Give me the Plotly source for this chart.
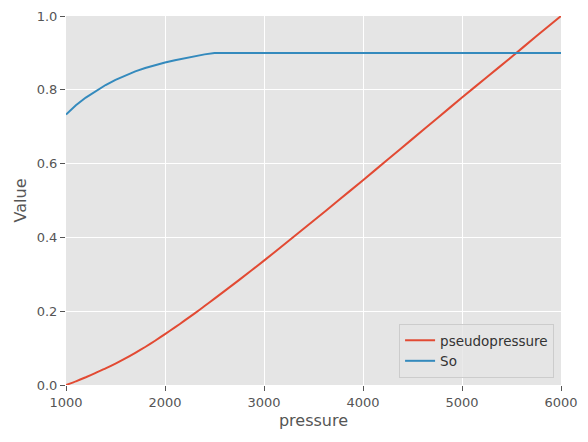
import plotly.graph_objects as go

pressure = [1000, 1100, 1200, 1300, 1400, 1500, 1600, 1700, 1800, 1900, 2000, 2100, 2200,
            2300, 2400, 2500, 2750, 3000, 3250, 3500, 3750, 4000, 4250, 4500, 4750, 5000,
            5250, 5500, 5750, 6000]
pseudopressure = [0.0, 0.010, 0.021, 0.033, 0.045, 0.058, 0.072, 0.087, 0.103, 0.120, 0.138,
                  0.156, 0.175, 0.194, 0.214, 0.234, 0.285, 0.337, 0.391, 0.445, 0.500,
                  0.555, 0.611, 0.667, 0.723, 0.779, 0.834, 0.889, 0.945, 1.0]
So = [0.733, 0.758, 0.779, 0.797, 0.813, 0.827, 0.839, 0.850, 0.859, 0.867, 0.874, 0.880,
      0.886, 0.891, 0.896, 0.9, 0.9, 0.9, 0.9, 0.9, 0.9, 0.9, 0.9, 0.9, 0.9, 0.9, 0.9,
      0.9, 0.9, 0.9]

font = "DejaVu Sans"
fig = go.Figure()
fig.add_trace(go.Scatter(x=pressure, y=pseudopressure, mode="lines", name="pseudopressure",
                         line=dict(color="#E24A33", width=2, shape="spline", smoothing=0.5)))
fig.add_trace(go.Scatter(x=pressure, y=So, mode="lines", name="So",
                         line=dict(color="#348ABD", width=2)))

axis_common = dict(showgrid=True, gridcolor="white", gridwidth=1, zeroline=False,
                   ticks="outside", ticklen=5, tickcolor="#555555", tickwidth=1,
                   tickfont=dict(family=font, size=13, color="#555555"),
                   showline=False, automargin=False)
fig.update_xaxes(range=[1000, 6000], tickvals=[1000, 2000, 3000, 4000, 5000, 6000],
                 title=dict(text="pressure", font=dict(family=font, size=16, color="#555555"), standoff=6),
                 **axis_common)
fig.update_yaxes(range=[0, 1], tickvals=[0, 0.2, 0.4, 0.6, 0.8, 1.0], tickformat=".1f",
                 title=dict(text="Value", font=dict(family=font, size=16, color="#555555"), standoff=6),
                 **axis_common)
fig.update_layout(
    width=580, height=431,
    margin=dict(l=58, r=27, t=8, b=54, autoexpand=False),
    plot_bgcolor="#E5E5E5", paper_bgcolor="white",
    font=dict(family=font, size=12, color="#555555"),
    legend=dict(x=0.986, y=0.019, xanchor="right", yanchor="bottom",
                bgcolor="rgba(229,229,229,0.8)", bordercolor="#CCCCCC", borderwidth=1,
                font=dict(family=font, size=13.5, color="#333333"),
                tracegroupgap=0, itemwidth=30),
    showlegend=True,
)
fig.write_html("out.html")
